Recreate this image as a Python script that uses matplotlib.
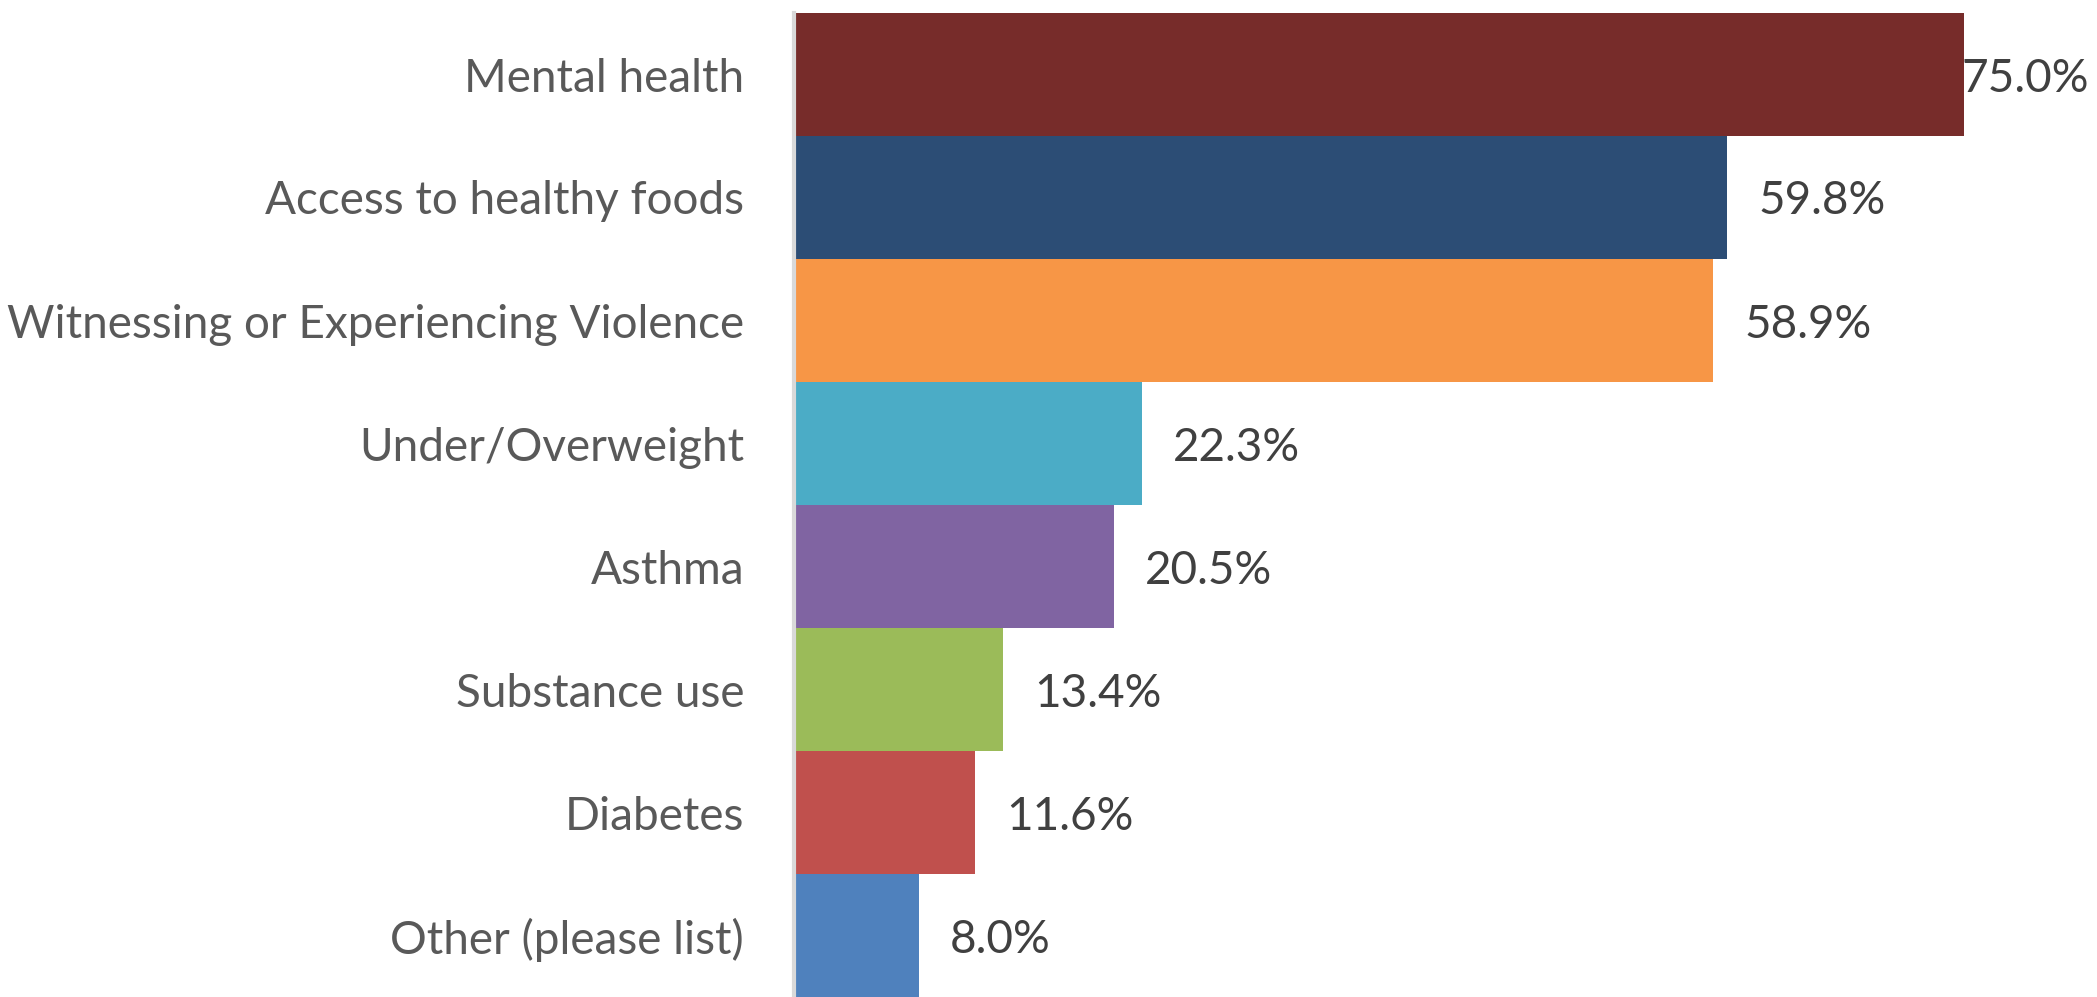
import matplotlib.pyplot as plt

categories = ["Mental health", "Access to healthy foods", "Witnessing or Experiencing Violence",
              "Under/Overweight", "Asthma", "Substance use", "Diabetes", "Other (please list)"]
values = [75.0, 59.8, 58.9, 22.3, 20.5, 13.4, 11.6, 8.0]
colors = ["#772C2A", "#2C4D75", "#F79646", "#4BACC6", "#8064A2", "#9BBB59", "#C0504D", "#4F81BD"]

plt.rcParams['font.family'] = ['Lato', 'DejaVu Sans']

fig = plt.figure(figsize=(20.97, 9.97), dpi=100)
ax = fig.add_axes([794 / 2097, 0, 1 - 794 / 2097, 1 - 13 / 997])

ypos = list(range(len(categories)))
ax.barh(ypos, values, height=1.0, color=colors, linewidth=0, zorder=2)

xmax = 83.5
ax.set_xlim(0, xmax)
ax.set_ylim(len(categories) - 0.5, -0.5)

# 数值标签，放不下的靠右对齐
for y, v in zip(ypos, values):
    label = f"{v:.1f}%"
    if v + 2 + 8 > xmax:
        ax.text(xmax - 0.5, y, label, ha='right', va='center_baseline', fontsize=33, color='#404040', zorder=3)
    else:
        ax.text(v + 2.0, y, label, ha='left', va='center_baseline', fontsize=33, color='#404040', zorder=3)

ax.set_yticks(ypos)
ax.set_yticklabels(categories, fontsize=33, color='#595959')
ax.tick_params(axis='y', length=0, pad=36)
ax.set_xticks([])

for side in ['top', 'right', 'bottom']:
    ax.spines[side].set_visible(False)
ax.spines['left'].set_color('#D9D9D9')
ax.spines['left'].set_linewidth(3)

fig.savefig("out.png", dpi=100)
